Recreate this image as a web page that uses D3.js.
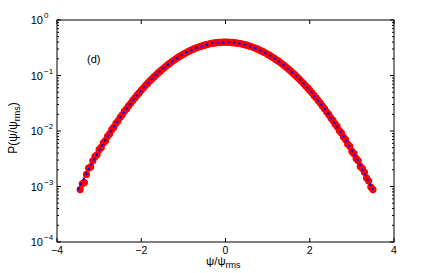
<!DOCTYPE html>
<html>
<head>
<meta charset="utf-8">
<script src="https://cdn.jsdelivr.net/npm/d3@7/dist/d3.min.js"></script>
<style>
  body { margin: 0; background: #fff; }
  text { font-family: "Liberation Sans", Arial, sans-serif; fill: #000; }
</style>
</head>
<body>
<svg id="chart" width="436" height="273"></svg>
<script>
// histogram points, psi/psi_rms from -3.45 to 3.50 in steps of 0.05
const pdfX = d3.range(-3.45, 3.5001, 0.05).map(v => Math.round(v * 100) / 100);
const pdfY = [
  0.00088, 0.00112, 0.00118, 0.00165, 0.00215, 0.00225, 0.00290, 0.00345, 0.00372, 0.00460,
  0.00505, 0.00610, 0.00670, 0.00805, 0.00895, 0.0106, 0.0117, 0.0138, 0.0153, 0.0177,
  0.0196, 0.0226, 0.0250, 0.0285, 0.0315, 0.0357, 0.0394, 0.0442, 0.0486, 0.0542,
  0.0594, 0.0658, 0.0719, 0.0792, 0.0861, 0.0942, 0.1021, 0.1111, 0.1198, 0.1297,
  0.1392, 0.1499, 0.1602, 0.1716, 0.1824, 0.1944, 0.2057, 0.2181, 0.2297, 0.2422,
  0.2539, 0.2663, 0.2778, 0.2899, 0.3009, 0.3125, 0.3228, 0.3334, 0.3427, 0.3523,
  0.3603, 0.3685, 0.3750, 0.3816, 0.3865, 0.3912, 0.3943, 0.3972, 0.3982, 0.3990,
  0.3983, 0.3969, 0.3946, 0.3909, 0.3868, 0.3812, 0.3753, 0.3681, 0.3606, 0.3519,
  0.3430, 0.3330, 0.3231, 0.3121, 0.3012, 0.2895, 0.2781, 0.2659, 0.2542, 0.2418,
  0.2300, 0.2177, 0.2060, 0.1940, 0.1827, 0.1712, 0.1605, 0.1495, 0.1395, 0.1293,
  0.1201, 0.1107, 0.1024, 0.0938, 0.0864, 0.0788, 0.0722, 0.0654, 0.0597, 0.0538,
  0.0489, 0.0438, 0.0397, 0.0353, 0.0318, 0.0281, 0.0253, 0.0222, 0.0199, 0.0173,
  0.0155, 0.0134, 0.0121, 0.0102, 0.0093, 0.0078, 0.0070, 0.0058, 0.0053, 0.0043,
  0.0039, 0.0032, 0.0029, 0.0023, 0.0021, 0.0018, 0.00142, 0.00125, 0.00098, 0.00088
];

// gaussian reference curve
const fitX = [-3.5, -3.25, -3.0, -2.75, -2.5, -2.25, -2.0, -1.75, -1.5, -1.25, -1.0, -0.75, -0.5, -0.25, 0,
              0.25, 0.5, 0.75, 1.0, 1.25, 1.5, 1.75, 2.0, 2.25, 2.5, 2.75, 3.0, 3.25, 3.5];
const fitY = [0.000873, 0.00203, 0.00443, 0.00909, 0.0175, 0.0317, 0.0540, 0.0863, 0.1295, 0.1826, 0.2420, 0.3011, 0.3521, 0.3867, 0.3989,
              0.3867, 0.3521, 0.3011, 0.2420, 0.1826, 0.1295, 0.0863, 0.0540, 0.0317, 0.0175, 0.00909, 0.00443, 0.00203, 0.000873];

const xTicks = [-4, -2, 0, 2, 4];
const yTicks = [1e-4, 1e-3, 1e-2, 1e-1, 1];
const yExp = ["\u22124", "\u22123", "\u22122", "\u22121", "0"];

const svg = d3.select("#chart");
const L = 57, R = 394, T = 20, B = 242;

const x = d3.scaleLinear().domain([-4, 4]).range([L, R]);
const y = d3.scaleLog().domain([1e-4, 1]).range([B, T]);

// minor ticks for the log axis
let minor = [];
for (let e = -4; e < 0; e++) {
  for (let k = 2; k <= 9; k++) minor.push(k * Math.pow(10, e));
}

const g = svg.append("g");

// data
g.selectAll(".pt")
  .data(pdfX.map((d, i) => [d, pdfY[i]]))
  .enter()
  .append("circle")
  .attr("class", "pt")
  .attr("cx", d => x(d[0]))
  .attr("cy", d => y(d[1]))
  .attr("r", 3)
  .style("fill", "#ff0000")
  .style("stroke", "#ff0000")
  .style("stroke-width", 1.2);

const line = d3.line()
  .x(d => x(d[0]))
  .y(d => y(d[1]))
  .curve(d3.curveCatmullRom);

g.append("path")
  .datum(fitX.map((d, i) => [d, fitY[i]]))
  .attr("d", line)
  .style("fill", "none")
  .style("stroke", "#0000ff")
  .style("stroke-width", 2)
  .style("stroke-dasharray", "2.5,3");

// box
svg.append("rect")
  .attr("x", L).attr("y", T)
  .attr("width", R - L).attr("height", B - T)
  .style("fill", "none")
  .style("stroke", "#000")
  .style("stroke-width", 1);

// ticks, pointing inward, on both sides
const tk = svg.append("g").style("stroke", "#000").style("stroke-width", 1);
xTicks.forEach(t => {
  tk.append("line").attr("x1", x(t)).attr("x2", x(t)).attr("y1", B).attr("y2", B - 4);
  tk.append("line").attr("x1", x(t)).attr("x2", x(t)).attr("y1", T).attr("y2", T + 4);
});
yTicks.forEach(t => {
  tk.append("line").attr("x1", L).attr("x2", L + 4).attr("y1", y(t)).attr("y2", y(t));
  tk.append("line").attr("x1", R).attr("x2", R - 4).attr("y1", y(t)).attr("y2", y(t));
});
minor.forEach(t => {
  tk.append("line").attr("x1", L).attr("x2", L + 2).attr("y1", y(t)).attr("y2", y(t));
  tk.append("line").attr("x1", R).attr("x2", R - 2).attr("y1", y(t)).attr("y2", y(t));
});

// x tick labels
svg.selectAll(".xl")
  .data(xTicks)
  .enter()
  .append("text")
  .attr("x", d => x(d))
  .attr("y", B + 12)
  .attr("text-anchor", "middle")
  .style("font-size", "10.5px")
  .text(d => d < 0 ? "\u2212" + Math.abs(d) : d);

// y tick labels 10^n
yTicks.forEach((t, i) => {
  svg.append("text")
    .attr("x", 43)
    .attr("y", y(t) + 4)
    .attr("text-anchor", "end")
    .style("font-size", "11px")
    .text("10");
  svg.append("text")
    .attr("x", 44)
    .attr("y", y(t) - 2)
    .style("font-size", "8px")
    .text(yExp[i]);
});

// axis labels
const xl = svg.append("text")
  .attr("x", 206)
  .attr("y", B + 23)
  .style("font-size", "11.5px");
xl.append("tspan").text("\u03c8/\u03c8");
xl.append("tspan").attr("dy", 3).style("font-size", "9px").text("rms");

const yl = svg.append("text")
  .attr("transform", "translate(17,128) rotate(-90)")
  .attr("text-anchor", "middle")
  .style("font-size", "12px");
yl.append("tspan").text("P(\u03c8/\u03c8");
yl.append("tspan").attr("dy", 3).style("font-size", "9px").text("rms");
yl.append("tspan").attr("dy", -3).text(")");

svg.append("text")
  .attr("x", 87)
  .attr("y", 63)
  .style("font-size", "11px")
  .text("(d)");
</script>
</body>
</html>
